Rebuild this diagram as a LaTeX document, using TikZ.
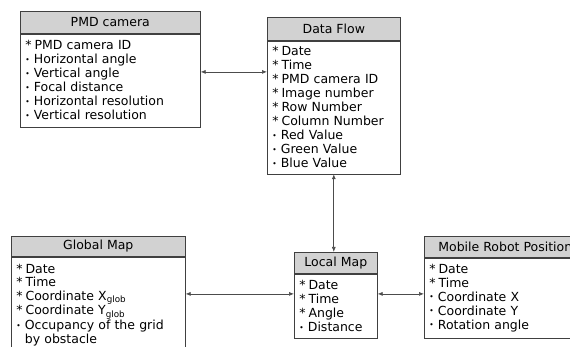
\documentclass[tikz,border=0pt]{standalone}
\usepackage{fontspec}
\setmainfont{DejaVu Sans}
\usetikzlibrary{arrows.meta,calc}
\definecolor{headgray}{RGB}{210,210,210}
\colorlet{framecolor}{black!75}
\colorlet{linkcolor}{black!70}
\newcommand{\keyattr}{*\hspace{3pt}}
\newcommand{\plainattr}{\raisebox{.2ex}{\scalebox{.6}{\textbullet}}\ }

\begin{document}
\begin{tikzpicture}[x=1pt,y=-1pt,
    every node/.style={font=\fontsize{12.5}{14}\selectfont},
    head/.style={draw=framecolor,fill=headgray,anchor=north west,inner sep=0pt,line width=.6pt},
    attrs/.style={draw=framecolor,anchor=north,align=left,inner xsep=5pt,inner ysep=0pt,line width=.6pt},
    link/.style={{Latex[length=5pt,width=4pt]}-{Latex[length=5pt,width=4pt]},linkcolor,line width=.7pt}]
  \path[use as bounding box,clip] (0,0) rectangle (570,347);
  % entities
  \node[head,minimum width=180pt,minimum height=22pt] (pmd) at (20,11) {PMD camera};
  \node[attrs,text width=170pt,minimum height=93pt] (pmdattr) at (pmd.south) {\keyattr PMD camera ID\\ \plainattr Horizontal angle\\ \plainattr Vertical angle\\ \plainattr Focal distance\\ \plainattr Horizontal resolution\\ \plainattr Vertical resolution};
  \node[head,minimum width=133pt,minimum height=23pt] (df) at (267,17) {Data Flow};
  \node[attrs,text width=123pt,minimum height=133pt] (dfattr) at (df.south) {\keyattr Date\\ \keyattr Time\\ \keyattr PMD camera ID\\ \keyattr Image number\\ \keyattr Row Number\\ \keyattr Column Number\\ \plainattr Red Value\\ \plainattr Green Value\\ \plainattr Blue Value};
  \node[head,minimum width=174pt,minimum height=20pt] (gm) at (11,236) {Global Map};
  \node[attrs,text width=164pt,minimum height=96pt,font=\fontsize{12.5}{13.5}\selectfont] (gmattr) at (gm.south) {\keyattr Date\\ \keyattr Time\\ \keyattr Coordinate X\textsubscript{glob}\\ \keyattr Coordinate Y\textsubscript{glob}\\ \plainattr Occupancy of the grid\\ \phantom{\plainattr}by obstacle};
  \node[head,minimum width=83pt,minimum height=21pt] (lm) at (294,252) {Local Map};
  \node[attrs,text width=73pt,minimum height=64pt] (lmattr) at (lm.south) {\keyattr Date\\ \keyattr Time\\ \keyattr Angle\\ \plainattr Distance};
  \node[head,minimum width=162pt,minimum height=21pt] (mr) at (424,236) {Mobile Robot Position};
  \node[attrs,text width=152pt,minimum height=80pt] (mrattr) at (mr.south) {\keyattr Date\\ \keyattr Time\\ \plainattr Coordinate X\\ \plainattr Coordinate Y\\ \plainattr Rotation angle};
  % connectors
  \coordinate (camport) at ([yshift=8.5pt]pmdattr.east);
  \draw[link] (camport) -- (camport -| dfattr.west);
  \draw[link] (dfattr.south) -- (dfattr.south |- lm.north);
  \coordinate (lmport) at ([yshift=12pt]lmattr.west);
  \draw[link] (lmport -| gmattr.east) -- (lmport);
  \coordinate (robport) at ([yshift=12pt]lmattr.east);
  \draw[link] (robport) -- (robport -| mrattr.west);
\end{tikzpicture}
\end{document}
